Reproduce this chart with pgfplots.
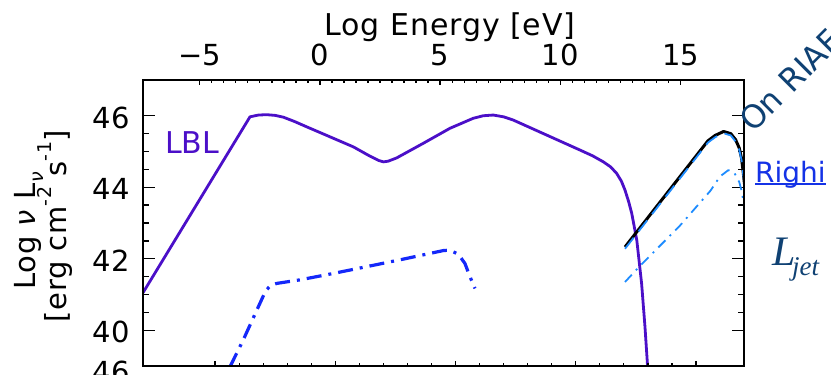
\documentclass[border=0pt]{standalone}
\usepackage{pgfplots}
\pgfplotsset{compat=1.18}
\usepackage{fontspec}
\setmainfont{DejaVu Sans}
\newfontfamily\spaced[LetterSpace=3]{DejaVu Sans}
\newfontfamily\serif{Liberation Serif}

\definecolor{lbl}{RGB}{75,15,200}
\definecolor{dblue}{RGB}{20,40,250}
\definecolor{lblue}{RGB}{30,140,255}
\definecolor{navy}{RGB}{15,65,115}
\definecolor{linkc}{RGB}{20,50,230}

\newcommand\fs[1]{\fontsize{#1bp}{#1bp}\selectfont}
\newcommand\ul[1]{\setbox0\hbox{#1}\rlap{\rule[-2.5bp]{\wd0}{1.6bp}}\box0}

\pgfplotsset{
  base/.style={
    scale only axis, width=601bp, height=286bp,
    at={(143bp,8bp)}, anchor=south west,
    ymin=39, ymax=47,
    axis line style={line width=1.4bp},
    tick style={line width=1.3bp, black},
    tick align=inside,
  }
}

\begin{document}
\begin{tikzpicture}[x=1bp,y=1bp]
\useasboundingbox (0,0) rectangle (831,374);
\clip (0,0) rectangle (831,374);

% main axis: data + y ticks
\begin{axis}[base, xmin=7, xmax=32, xtick=\empty,
  ytick={40,42,44,46}, yticklabels={40,42,44,46}, minor y tick num=3,
  major tick length=12bp, minor tick length=6bp,
  yticklabel style={font=\fs{29}, anchor=east, inner sep=0pt, xshift=-13bp, yshift=-2bp}]
\addplot[lbl, line width=2.8bp, line join=round] coordinates {
(7,41.05)(11.45,45.97)(11.8,46.02)(12.15,46.03)(12.5,46.01)(12.84,45.96)(13.3,45.84)
(13.81,45.69)(14.78,45.41)(15.75,45.13)(16.44,44.87)(16.8,44.75)(17.0,44.71)(17.2,44.73)
(17.55,44.82)(18.66,45.23)(19.77,45.65)(20.74,45.93)(21.15,46.0)(21.57,46.02)(22.0,45.97)
(22.4,45.88)(23.79,45.46)(25.18,45.04)(25.7,44.88)(26.15,44.71)(26.45,44.57)(26.7,44.39)
(26.9,44.17)(27.05,43.92)(27.2,43.6)(27.33,43.27)(27.54,42.52)(27.74,41.31)(27.88,40.10)(27.99,38.98)};
\addplot[dblue, line width=3.2bp, dash pattern=on 15bp off 7bp on 3bp off 7bp, line join=round] coordinates {
(10.62,38.98)(11.17,39.73)(11.8,40.66)(12.1,41.1)(12.3,41.25)(12.56,41.31)(13.53,41.41)
(14.92,41.59)(16.31,41.78)(17.69,41.97)(19.08,42.17)(19.5,42.23)(19.75,42.24)(20.05,42.15)
(20.25,42.0)(20.39,41.87)(20.6,41.5)(20.81,41.17)};
\addplot[black, line width=3bp, line join=round] coordinates {
(27.05,42.33)(30.5,45.3)(30.8,45.45)(31.15,45.56)(31.45,45.5)(31.65,45.33)(31.8,45.1)
(31.9,44.8)(31.97,44.4)(32.05,43.9)};
\addplot[lblue, line width=1.8bp, dash pattern=on 14bp off 8bp, line join=round] coordinates {
(27.05,42.28)(30.5,45.25)(30.8,45.4)(31.15,45.51)(31.45,45.45)(31.65,45.28)(31.8,45.05)
(31.9,44.75)(31.97,44.35)(32.05,43.85)};
\addplot[lblue, line width=1.8bp, dash pattern=on 10bp off 6bp on 2bp off 6bp, line join=round] coordinates {
(27.05,41.35)(27.67,41.8)(29.3,42.9)(30.6,43.9)(31.0,44.3)(31.35,44.48)(31.6,44.4)
(31.8,44.15)(31.9,43.9)(32.0,43.5)};
\end{axis}

% bottom x ticks (log nu)
\begin{axis}[base, xmin=7, xmax=32, xtick={10,15,20,25,30}, minor x tick num=4,
  xticklabels={}, xtick pos=left, ytick=\empty,
  major tick length=5bp, minor tick length=3bp]
\end{axis}

% top x ticks (log energy)
\begin{axis}[base, xmin=-7.36, xmax=17.64, xtick={-5,0,5,10,15},
  xticklabels={−5,0,5,10,15}, minor x tick num=9,
  xtick pos=right, xticklabel pos=right, ytick=\empty,
  major tick length=5bp, minor tick length=3bp,
  xticklabel style={font=\fs{29}, anchor=base, inner sep=0pt, yshift=15bp}]
\end{axis}

\node[anchor=base, inner sep=0pt, font=\spaced\fs{30}] at (450,339) {Log Energy [eV]};
\node[rotate=90, anchor=base west, inner sep=0pt, font=\spaced\fs{29}] at (35,84)
  {Log \textit{ν} L\raisebox{-0.3em}{\fs{19}\textit{ν}}};
\node[rotate=90, anchor=base west, inner sep=0pt, font=\spaced\fs{29}] at (66,51)
  {[erg cm\raisebox{0.5em}{\fs{19}-2} s\raisebox{0.5em}{\fs{19}-1}]};
\node[anchor=base west, inner sep=0pt, font=\fs{30}, text=lbl] at (165,221) {LBL};
\node[anchor=base east, inner sep=0pt, font=\fs{29}] at (130,-8) {46};

\node[rotate=45, anchor=base west, inner sep=0pt, font=\fs{32}, text=navy] at (753,240) {On RIAF};
\node[anchor=base west, inner sep=0pt, font=\fs{28}, text=linkc] at (755,192) {\ul{Righi}};
\node[anchor=base west, inner sep=0pt, font=\serif\itshape\fs{42}, text=navy] at (772,109) {L};
\node[anchor=base west, inner sep=0pt, font=\serif\itshape\fs{27}, text=navy] at (792,99) {jet};
\end{tikzpicture}
\end{document}
